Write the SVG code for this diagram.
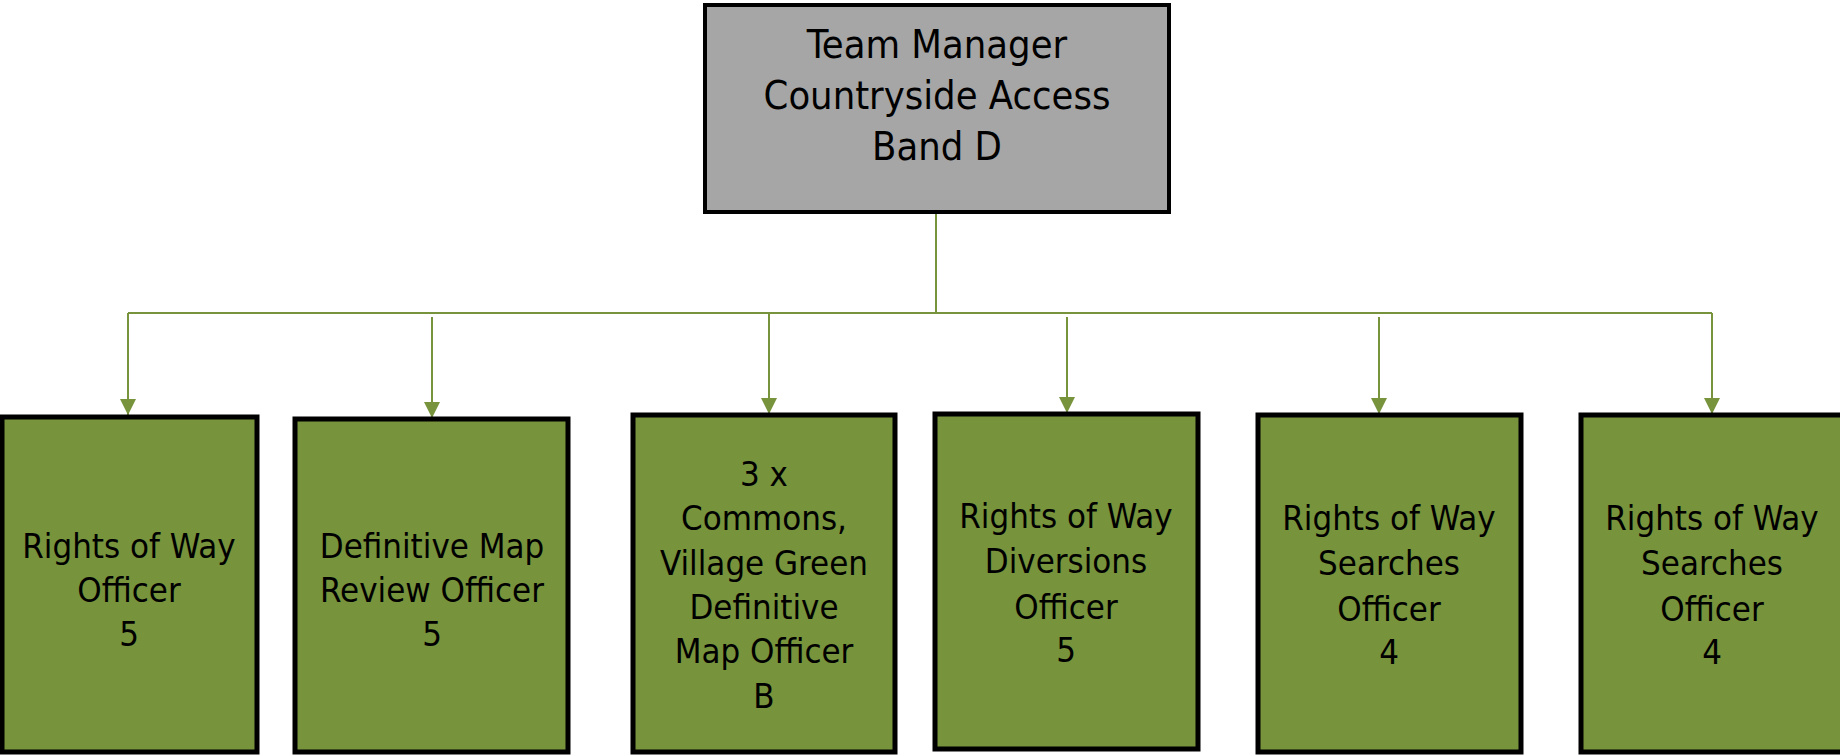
<svg xmlns="http://www.w3.org/2000/svg" width="1840" height="755" viewBox="0 0 1840 755">
<style>
.box{fill:#77933C;stroke:#000;stroke-width:5}
.top{fill:#A6A6A6;stroke:#000;stroke-width:4}
.t{font-family:"Liberation Sans Narrow","DejaVu Sans Condensed","Liberation Sans",sans-serif;font-size:34.5px;fill:#000;text-anchor:middle}
.tt{font-size:39.5px}
.c{fill:none;stroke:#77933C;stroke-width:2}
</style>
<defs>
<marker id="ah" viewBox="0 0 16 16" refX="16" refY="8" markerWidth="16" markerHeight="16" markerUnits="userSpaceOnUse" orient="auto">
<path d="M0,0 L16,8 L0,16 z" fill="#77933C"/>
</marker>
</defs>
<rect width="1840" height="755" fill="#fff"/>
<g id="connectors">
<path class="c" d="M936,213 V313 M128,313 H1712"/>
<path class="c" d="M128,313 V415" marker-end="url(#ah)"/>
<path class="c" d="M432,317 V418" marker-end="url(#ah)"/>
<path class="c" d="M769,313 V414" marker-end="url(#ah)"/>
<path class="c" d="M1067,317 V413" marker-end="url(#ah)"/>
<path class="c" d="M1379,317 V414" marker-end="url(#ah)"/>
<path class="c" d="M1712,313 V414" marker-end="url(#ah)"/>
</g>
<g id="manager">
<rect class="top" x="705" y="5" width="464" height="207"/>
<text class="t tt" x="937" y="58">Team Manager</text>
<text class="t tt" x="937" y="109">Countryside Access</text>
<text class="t tt" x="937" y="160">Band D</text>
</g>
<g id="row-officer">
<rect class="box" x="2" y="417" width="255" height="335"/>
<text class="t" x="129" y="558">Rights of Way</text>
<text class="t" x="129" y="602">Officer</text>
<text class="t" x="129" y="646">5</text>
</g>
<g id="dm-review">
<rect class="box" x="295" y="419" width="273" height="333"/>
<text class="t" x="432" y="558">Definitive Map</text>
<text class="t" x="432" y="602">Review Officer</text>
<text class="t" x="432" y="646">5</text>
</g>
<g id="commons">
<rect class="box" x="633" y="415" width="262" height="337"/>
<text class="t" x="764" y="486">3 x</text>
<text class="t" x="764" y="530">Commons,</text>
<text class="t" x="764" y="575">Village Green</text>
<text class="t" x="764" y="619">Definitive</text>
<text class="t" x="764" y="663">Map Officer</text>
<text class="t" x="764" y="708">B</text>
</g>
<g id="diversions">
<rect class="box" x="935" y="414" width="263" height="335"/>
<text class="t" x="1066" y="528">Rights of Way</text>
<text class="t" x="1066" y="573">Diversions</text>
<text class="t" x="1066" y="619">Officer</text>
<text class="t" x="1066" y="662">5</text>
</g>
<g id="searches-1">
<rect class="box" x="1258" y="415" width="263" height="337"/>
<text class="t" x="1389" y="530">Rights of Way</text>
<text class="t" x="1389" y="575">Searches</text>
<text class="t" x="1389" y="621">Officer</text>
<text class="t" x="1389" y="664">4</text>
</g>
<g id="searches-2">
<rect class="box" x="1581" y="415" width="263" height="337"/>
<text class="t" x="1712" y="530">Rights of Way</text>
<text class="t" x="1712" y="575">Searches</text>
<text class="t" x="1712" y="621">Officer</text>
<text class="t" x="1712" y="664">4</text>
</g>
</svg>
